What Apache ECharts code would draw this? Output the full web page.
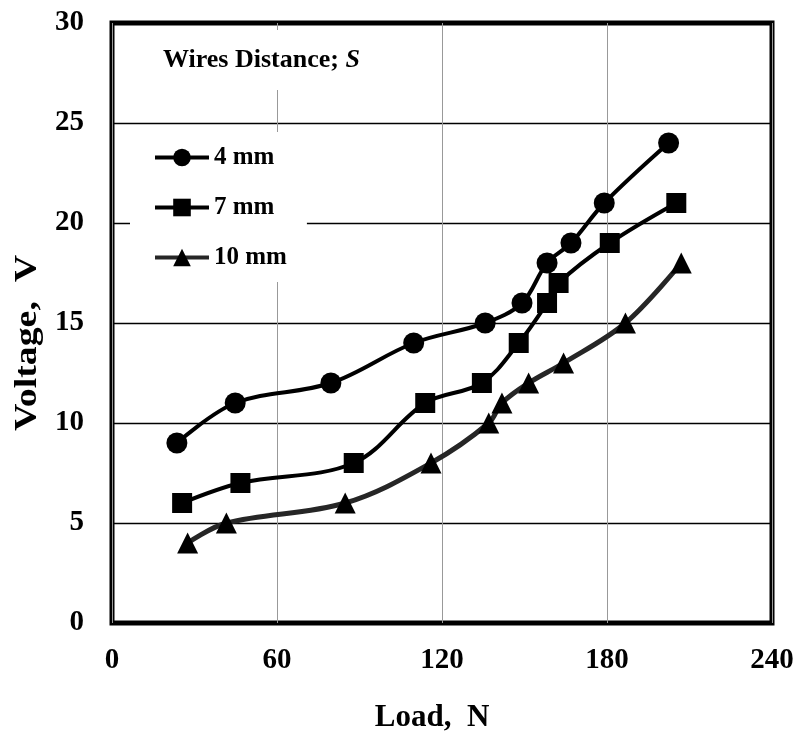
<!DOCTYPE html>
<html>
<head>
<meta charset="utf-8">
<script src="https://cdn.jsdelivr.net/npm/echarts@6/dist/echarts.min.js"></script>
<style>html,body{margin:0;padding:0;background:#fff;}#c{width:799px;height:736px;}</style>
</head>
<body>
<div id="c"></div>
<script>
// ---- data ----
const xTicks = [0, 60, 120, 180, 240];
const yTicks = [0, 5, 10, 15, 20, 25, 30];
const seriesNames = ['4 mm', '7 mm', '10 mm'];
const load4 = [23.6, 44.8, 79.6, 109.7, 135.7, 149.1, 158.2, 166.9, 179.0, 202.4];
const volt4 = [9, 11, 12, 14, 15, 16, 18, 19, 21, 24];
const load7 = [25.5, 46.7, 87.9, 113.9, 134.5, 147.9, 158.2, 162.4, 181.0, 205.2];
const volt7 = [6, 7, 8, 11, 12, 14, 16, 17, 19, 21];
const load10 = [27.5, 41.6, 84.8, 116.0, 137.0, 141.8, 151.5, 164.2, 186.7, 207.0];
const volt10 = [4, 5, 6, 8, 10, 11, 12, 13, 15, 18];
const titleText = 'Wires Distance; ';
const titleItalic = 'S';
const xName = 'Load,  N';
const yName = 'Voltage,  V';

const FONT = '"Liberation Serif", "Times New Roman", serif';
function pairs(xs, ys) { return xs.map((x, i) => [x, ys[i]]); }

const chart = echarts.init(document.getElementById('c'), null, {renderer: 'canvas'});
chart.setOption({
  backgroundColor: '#ffffff',
  animation: false,
  title: {
    text: '{n|' + titleText + '}{i|' + titleItalic + '}',
    left: 143, top: 30,
    padding: [17, 20],
    backgroundColor: '#ffffff',
    textStyle: {
      rich: {
        n: {fontFamily: FONT, fontWeight: 'bold', fontSize: 26, color: '#000'},
        i: {fontFamily: FONT, fontWeight: 'bold', fontStyle: 'italic', fontSize: 26, color: '#000'}
      }
    }
  },
  legend: {
    data: seriesNames,
    orient: 'vertical',
    left: 130, top: 132,
    padding: [13, 20, 12, 23],
    backgroundColor: '#ffffff',
    itemWidth: 54, itemHeight: 22, itemGap: 25,
    lineStyle: {width: 4},
    textStyle: {fontFamily: FONT, fontWeight: 'bold', fontSize: 25, color: '#000'}
  },
  grid: {
    left: 112, right: 27, top: 23, bottom: 113,
    show: true, borderColor: '#000', borderWidth: 5,
    containLabel: false
  },
  xAxis: {
    type: 'value', min: 0, max: 240, interval: 60,
    axisLine: {show: false}, axisTick: {show: false},
    splitLine: {show: true, lineStyle: {color: '#999999', width: 1}},
    axisLabel: {margin: 23, fontFamily: FONT, fontWeight: 'bold', fontSize: 29, color: '#000',
      formatter: v => xTicks.includes(v) ? String(v) : ''}
  },
  yAxis: {
    type: 'value', min: 0, max: 30, interval: 5,
    axisLine: {show: false}, axisTick: {show: false},
    splitLine: {show: true, lineStyle: {color: '#000', width: 1.3}},
    axisLabel: {margin: 28, fontFamily: FONT, fontWeight: 'bold', fontSize: 29, color: '#000',
      formatter: v => yTicks.includes(v) ? String(v) : ''}
  },
  graphic: [
    {type: 'text', x: 432, y: 718, z: 10,
     style: {text: xName, font: 'bold 31px ' + FONT, fill: '#000', align: 'center', verticalAlign: 'middle'}},
    {type: 'text', x: 28, y: 343, rotation: Math.PI / 2, scaleX: 1.22, z: 10,
     style: {text: yName, font: 'bold 31px ' + FONT, fill: '#000', align: 'center', verticalAlign: 'middle'}}
  ],
  series: [
    {name: seriesNames[0], type: 'line', data: pairs(load4, volt4), smooth: 0.35,
     symbol: 'circle', symbolSize: 21, color: '#000',
     lineStyle: {color: '#000', width: 4}, itemStyle: {color: '#000'}},
    {name: seriesNames[1], type: 'line', data: pairs(load7, volt7), smooth: 0.35,
     symbol: 'rect', symbolSize: 20, color: '#000',
     lineStyle: {color: '#000', width: 4}, itemStyle: {color: '#000'}},
    {name: seriesNames[2], type: 'line', data: pairs(load10, volt10), smooth: 0.35,
     symbol: 'triangle', symbolSize: 21, color: '#000',
     lineStyle: {color: '#262626', width: 5}, itemStyle: {color: '#000'}}
  ]
});
</script>
</body>
</html>
